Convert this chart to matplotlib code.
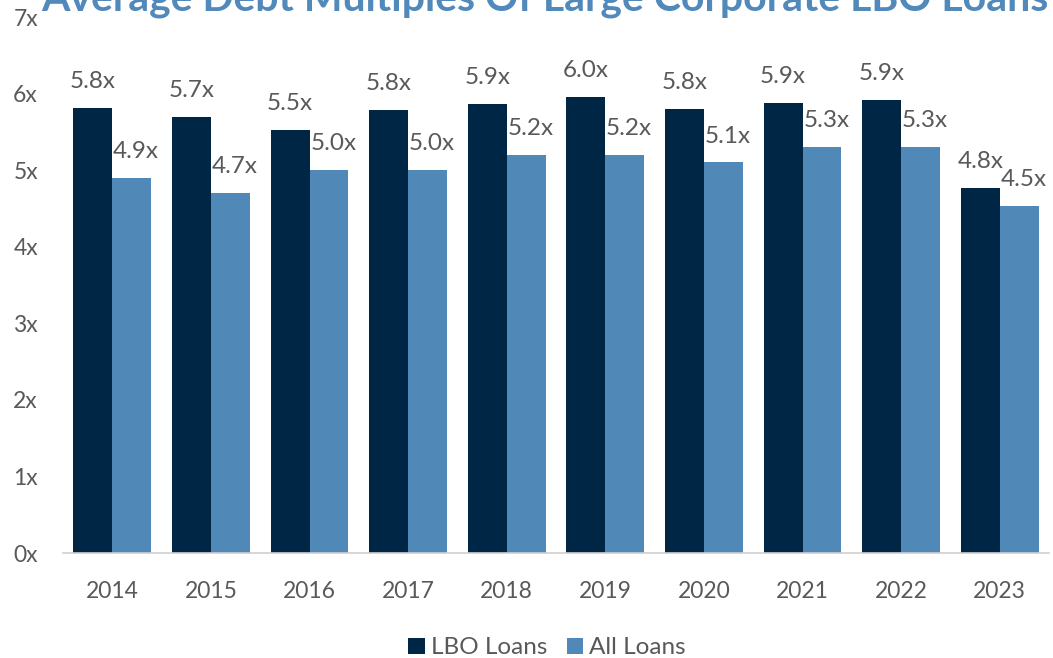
import matplotlib
matplotlib.use("Agg")
import matplotlib.pyplot as plt
import numpy as np

years = ["2014", "2015", "2016", "2017", "2018", "2019", "2020", "2021", "2022", "2023"]
lbo_loans = [5.81, 5.69, 5.52, 5.79, 5.87, 5.96, 5.80, 5.88, 5.92, 4.77]
all_loans = [4.90, 4.70, 5.00, 5.00, 5.20, 5.20, 5.10, 5.30, 5.30, 4.53]
y_ticks = [0, 1, 2, 3, 4, 5, 6, 7]
y_tick_labels = ["0x", "1x", "2x", "3x", "4x", "5x", "6x", "7x"]
series_names = ["LBO Loans", "All Loans"]
title = "Average Debt Multiples Of Large Corporate LBO Loans"

plt.rcParams['font.family'] = ['Lato', 'DejaVu Sans']
dark = "#002645"
light = "#5088B8"
gray = "#595959"

fig = plt.figure(figsize=(10.53, 6.58), dpi=100)
ax = fig.add_axes([63/1053, 1-553/658, (1049-63)/1053, (553-17)/658])

x = np.arange(len(years))
w = 0.395
b1 = ax.bar(x - w/2, lbo_loans, w, color=dark, label=series_names[0])
b2 = ax.bar(x + w/2, all_loans, w, color=light, label=series_names[1])

for rects, vals, dx in [(b1, lbo_loans, 0.0), (b2, all_loans, 0.045)]:
    for r, v in zip(rects, vals):
        ax.annotate(f"{v:.1f}x", (r.get_x() + r.get_width()/2 + dx, v),
                    xytext=(0, 11.5), textcoords="offset points",
                    ha="center", va="bottom", fontsize=17.5, color=gray)

ax.set_xlim(-0.5, len(years) - 0.5)
ax.set_ylim(0, 7)
ax.set_yticks(y_ticks)
ax.set_yticklabels(y_tick_labels)
ax.set_xticks(x)
ax.set_xticklabels(years)
ax.tick_params(axis='y', length=0, pad=18, labelsize=16.5, labelcolor=gray)
ax.tick_params(axis='x', length=0, pad=20, labelsize=16.5, labelcolor=gray)
for s in ["top", "right", "left"]:
    ax.spines[s].set_visible(False)
ax.spines["bottom"].set_color("#D0D0D0")
ax.spines["bottom"].set_linewidth(1.2)

leg = fig.legend(loc="center", bbox_to_anchor=(547/1053, 1-648/658), ncol=2, frameon=False,
                 fontsize=17.5, handlelength=0.67, handleheight=0.67, handletextpad=0.25,
                 columnspacing=0.8, labelcolor=gray, borderpad=0)

fig.text(545/1053, 1-10/658, title, ha="center", va="baseline", fontsize=29.5,
         fontweight="bold", color="#5089BA")

fig.savefig("out.png", dpi=100)
